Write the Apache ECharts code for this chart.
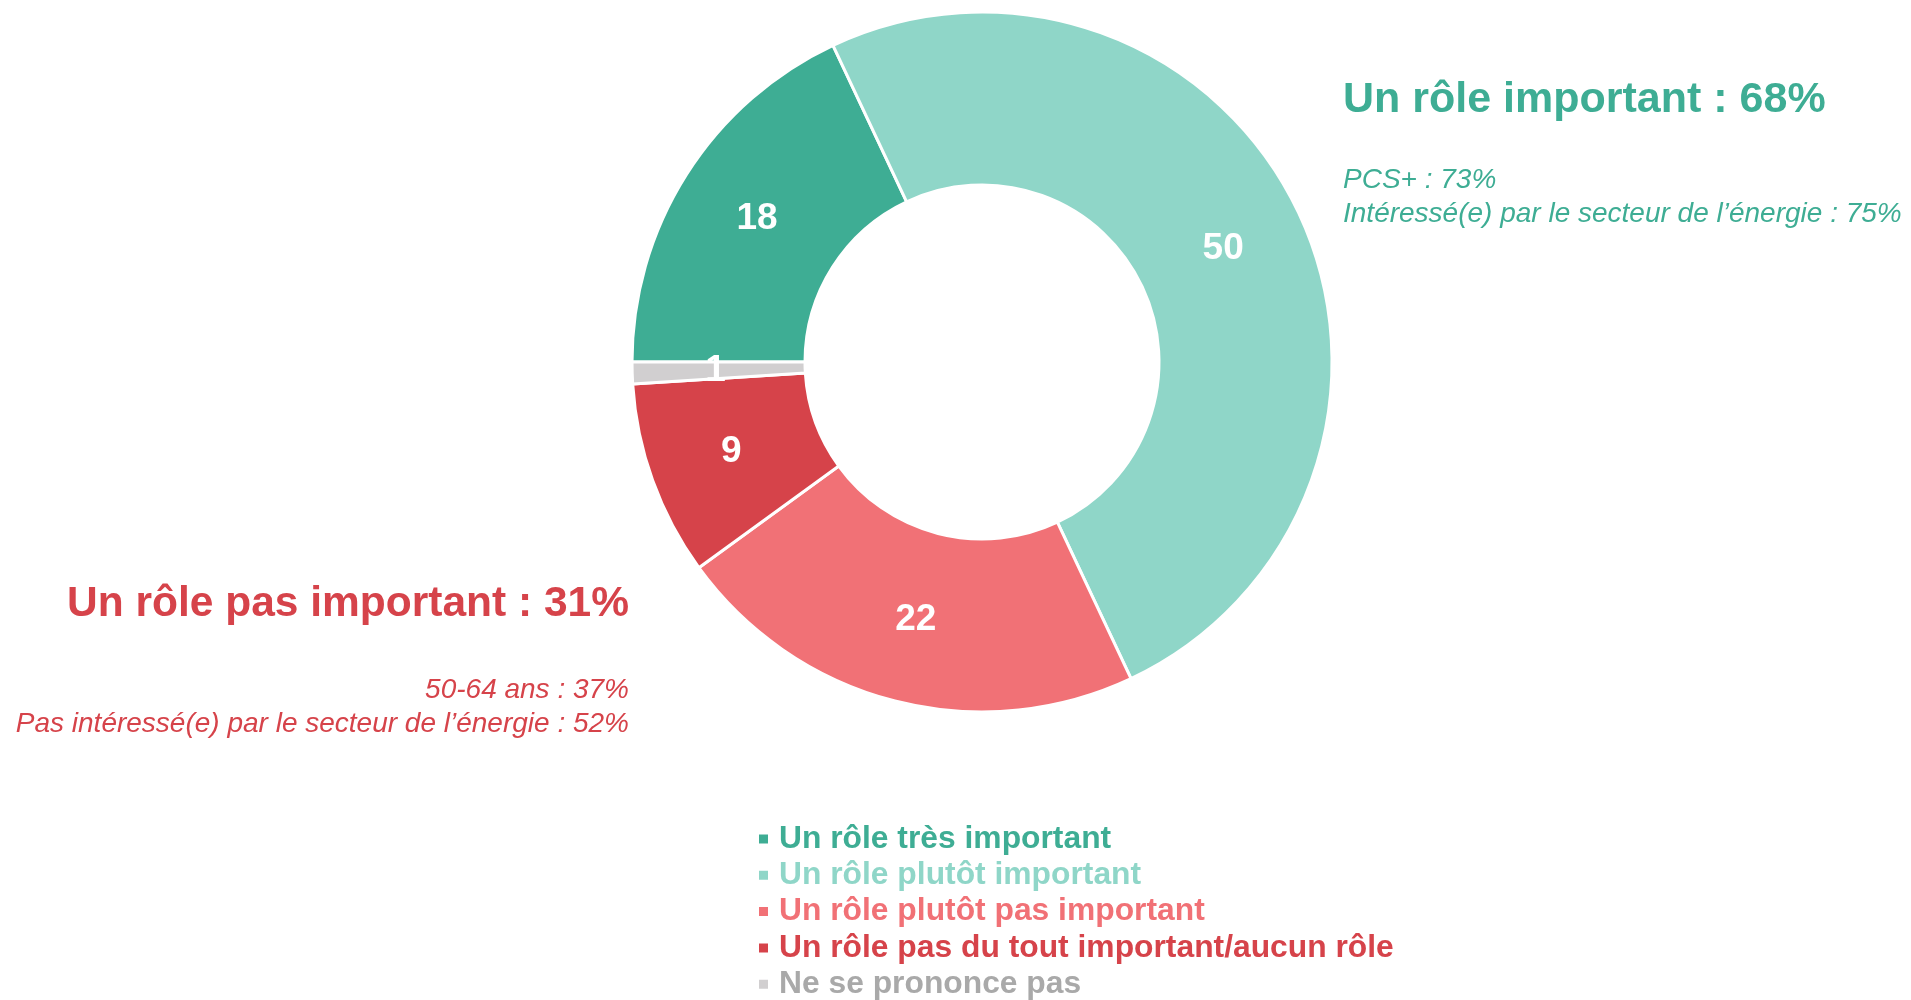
<!DOCTYPE html>
<html>
<head>
<meta charset="utf-8">
<script src="https://cdn.jsdelivr.net/npm/echarts@6/dist/echarts.min.js"></script>
<style>
  html, body { margin: 0; padding: 0; background: #fff; }
  #chart { width: 1911px; height: 1000px; }
</style>
</head>
<body>
<div id="chart"></div>
<script>
// data
var categories = ['Un rôle très important', 'Un rôle plutôt important', 'Un rôle plutôt pas important', 'Un rôle pas du tout important/aucun rôle', 'Ne se prononce pas']
var values = [18, 50, 22, 9, 1]
var colors = ['#3EAD94', '#8FD6C8', '#F17176', '#D6434A', '#D1CFD0']
var legendColors = ['#3EAD94', '#8FD6C8', '#F17176', '#D6434A', '#A9A9A9']

var importantTitle = 'Un rôle important : 68%'
var importantNotes = ['PCS+ : 73%', 'Intéressé(e) par le secteur de l’énergie : 75%']
var notImportantTitle = 'Un rôle pas important : 31%'
var notImportantNotes = ['50-64 ans : 37%', 'Pas intéressé(e) par le secteur de l’énergie : 52%']

var FONT = '"Liberation Sans", Arial, sans-serif'
var teal = '#3EAD94'
var red = '#D6434A'

var chart = echarts.init(document.getElementById('chart'))

var pieData = categories.map(function (name, i) {
  return { name: name, value: values[i], itemStyle: { color: colors[i] } }
})

var legendData = categories.map(function (name, i) {
  return { name: name, icon: 'rect', textStyle: { color: legendColors[i] } }
})

function textEl(x, y, text, font, color, align) {
  return {
    type: 'text',
    x: x,
    y: y,
    style: {
      text: text,
      font: font,
      fill: color,
      textAlign: align,
      textVerticalAlign: 'middle'
    }
  }
}

var graphics = [
  textEl(1343, 100, importantTitle, 'bold 43px ' + FONT, teal, 'left'),
  textEl(1343, 180, importantNotes[0], 'italic 28px ' + FONT, teal, 'left'),
  textEl(1343, 214, importantNotes[1], 'italic 28px ' + FONT, teal, 'left'),
  textEl(629, 604, notImportantTitle, 'bold 42.5px ' + FONT, red, 'right'),
  textEl(629, 690, notImportantNotes[0], 'italic 28px ' + FONT, red, 'right'),
  textEl(629, 724, notImportantNotes[1], 'italic 28px ' + FONT, red, 'right')
]

var option = {
  backgroundColor: '#fff',
  animation: false,
  legend: {
    orient: 'vertical',
    left: 757,
    top: 823,
    height: 190,
    padding: 0,
    itemWidth: 11,
    itemHeight: 11,
    itemGap: 4.3,
    selectedMode: false,
    data: legendData,
    textStyle: {
      fontFamily: FONT,
      fontWeight: 'bold',
      fontSize: 31.8,
      padding: [0, 0, 0, 5]
    }
  },
  graphic: graphics,
  series: [
    {
      type: 'pie',
      center: [982, 362],
      radius: [177, 350],
      startAngle: 180,
      clockwise: true,
      avoidLabelOverlap: false,
      itemStyle: { borderColor: '#fff', borderWidth: 3 },
      label: {
        show: true,
        position: 'inside',
        formatter: '{c}',
        color: '#fff',
        fontFamily: FONT,
        fontWeight: 'bold',
        fontSize: 37
      },
      labelLine: { show: false },
      emphasis: { disabled: true },
      data: pieData
    }
  ]
}

chart.setOption(option)
</script>
</body>
</html>
